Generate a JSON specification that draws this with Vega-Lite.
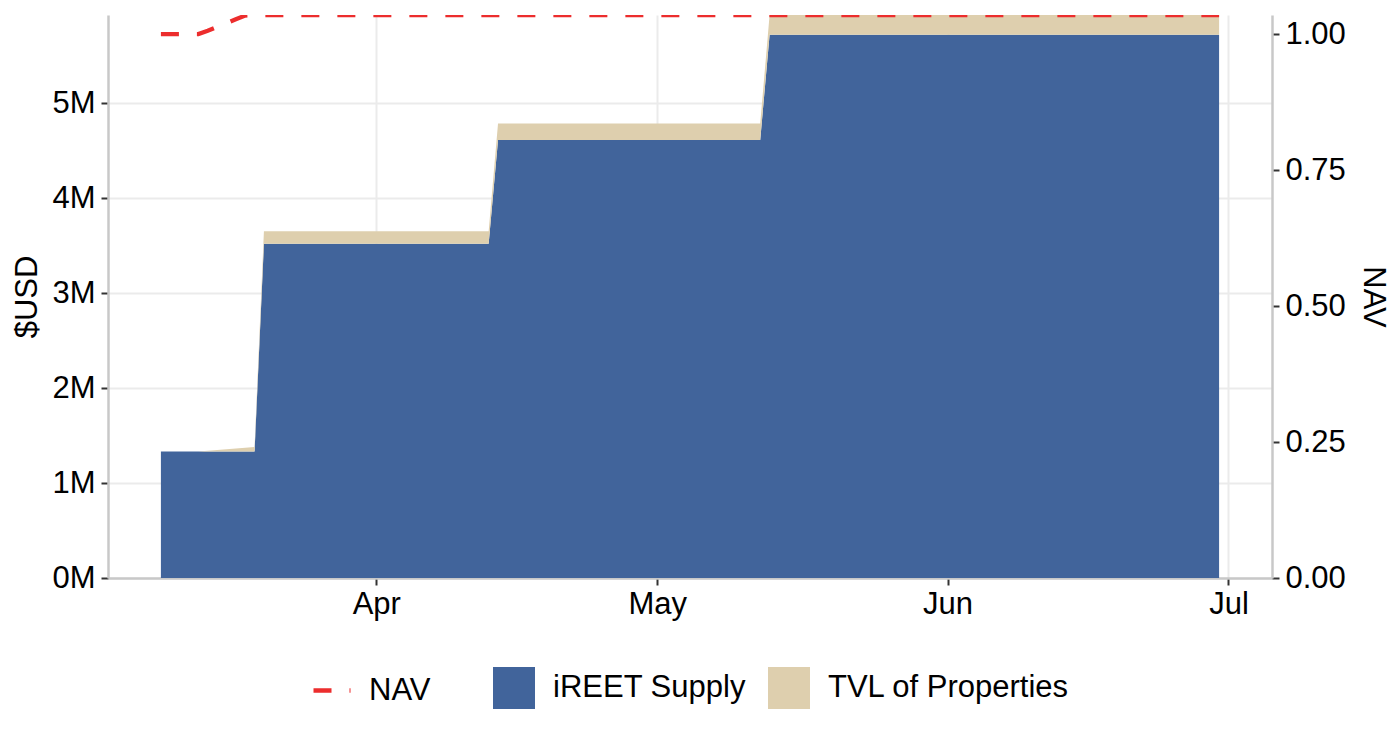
{
  "$schema": "https://vega.github.io/schema/vega-lite/v6.json",
  "width": 1164,
  "height": 563,
  "autosize": {"type": "none"},
  "padding": {"left": 108, "top": 15, "right": 128, "bottom": 162},
  "background": "white",
  "config": {
    "view": {"stroke": null},
    "font": "Liberation Sans",
    "axis": {
      "labelFont": "Liberation Sans",
      "labelFontSize": 31,
      "labelColor": "#000000",
      "titleFont": "Liberation Sans",
      "titleFontSize": 31,
      "titleFontWeight": "normal",
      "titleColor": "#000000",
      "domainColor": "#C8C8C8",
      "domainWidth": 2.5,
      "tickColor": "#333333",
      "tickWidth": 2,
      "tickSize": 7,
      "gridColor": "#EBEBEB",
      "gridWidth": 2
    },
    "legend": {
      "labelFont": "Liberation Sans",
      "labelFontSize": 31,
      "labelColor": "#000000",
      "labelLimit": 0,
      "padding": 0,
      "orient": "none",
      "direction": "horizontal"
    }
  },
  "datasets": {
    "area": [
      {"date": "2023-03-09", "series": "iREET Supply", "ord": 1, "value": 1333000},
      {"date": "2023-03-13", "series": "iREET Supply", "ord": 1, "value": 1333000},
      {"date": "2023-03-19", "series": "iREET Supply", "ord": 1, "value": 1333000},
      {"date": "2023-03-20", "series": "iREET Supply", "ord": 1, "value": 3520000},
      {"date": "2023-04-13", "series": "iREET Supply", "ord": 1, "value": 3520000},
      {"date": "2023-04-14", "series": "iREET Supply", "ord": 1, "value": 4614000},
      {"date": "2023-05-12", "series": "iREET Supply", "ord": 1, "value": 4614000},
      {"date": "2023-05-13", "series": "iREET Supply", "ord": 1, "value": 5722000},
      {"date": "2023-06-30", "series": "iREET Supply", "ord": 1, "value": 5722000},
      {"date": "2023-03-09", "series": "TVL of Properties", "ord": 2, "value": 0},
      {"date": "2023-03-13", "series": "TVL of Properties", "ord": 2, "value": 0},
      {"date": "2023-03-19", "series": "TVL of Properties", "ord": 2, "value": 46000},
      {"date": "2023-03-20", "series": "TVL of Properties", "ord": 2, "value": 132000},
      {"date": "2023-04-13", "series": "TVL of Properties", "ord": 2, "value": 132000},
      {"date": "2023-04-14", "series": "TVL of Properties", "ord": 2, "value": 173000},
      {"date": "2023-05-12", "series": "TVL of Properties", "ord": 2, "value": 173000},
      {"date": "2023-05-13", "series": "TVL of Properties", "ord": 2, "value": 208000},
      {"date": "2023-06-30", "series": "TVL of Properties", "ord": 2, "value": 208000}
    ],
    "nav": [
      {"date": "2023-03-09", "nav": 1.0},
      {"date": "2023-03-13", "nav": 1.0},
      {"date": "2023-03-14", "nav": 1.006},
      {"date": "2023-03-15", "nav": 1.013},
      {"date": "2023-03-16", "nav": 1.02},
      {"date": "2023-03-17", "nav": 1.027},
      {"date": "2023-03-18", "nav": 1.034},
      {"date": "2023-03-19", "nav": 1.035},
      {"date": "2023-06-30", "nav": 1.035}
    ]
  },
  "encoding": {
    "x": {
      "field": "date",
      "type": "temporal",
      "scale": {
        "type": "utc",
        "domain": [
          {"year": 2023, "month": 3, "date": 3, "hours": 8, "minutes": 24, "utc": true},
          {"year": 2023, "month": 7, "date": 5, "hours": 15, "minutes": 36, "utc": true}
        ]
      },
      "axis": {
        "title": null,
        "grid": true,
        "values": [
          {"year": 2023, "month": 4, "date": 1, "utc": true},
          {"year": 2023, "month": 5, "date": 1, "utc": true},
          {"year": 2023, "month": 6, "date": 1, "utc": true},
          {"year": 2023, "month": 7, "date": 1, "utc": true}
        ],
        "labelExpr": "utcFormat(datum.value, '%b')",
        "labelPadding": 4
      }
    }
  },
  "layer": [
    {
      "data": {"name": "area"},
      "mark": {"type": "area", "clip": true, "interpolate": "linear"},
      "encoding": {
        "y": {
          "field": "value",
          "type": "quantitative",
          "stack": "zero",
          "scale": {"domain": [0, 5930000], "nice": false, "zero": true},
          "axis": {
            "title": "$USD",
            "values": [0, 1000000, 2000000, 3000000, 4000000, 5000000],
            "labelExpr": "format(datum.value / 1000000, 'd') + 'M'",
            "labelPadding": 6,
            "grid": true,
            "titleX": -81,
            "titleY": 281.5,
            "titleAngle": -90,
            "titleAlign": "center",
            "titleBaseline": "middle"
          }
        },
        "fill": {
          "field": "series",
          "type": "nominal",
          "scale": {
            "domain": ["iREET Supply", "TVL of Properties"],
            "range": ["#41649B", "#DECFAE"]
          },
          "legend": {
            "title": null,
            "legendX": 385,
            "legendY": 652,
            "symbolType": "square",
            "symbolSize": 1764,
            "symbolStrokeWidth": 0,
            "symbolOpacity": 1,
            "labelOffset": 18,
            "columnPadding": 22
          }
        },
        "order": {"field": "ord", "type": "quantitative"}
      }
    },
    {
      "data": {"name": "nav"},
      "mark": {"type": "line", "clip": true, "strokeWidth": 4.3, "strokeDash": [18, 18]},
      "encoding": {
        "y": {
          "field": "nav",
          "type": "quantitative",
          "scale": {"domain": [0, 1.035], "nice": false, "zero": true},
          "axis": {
            "orient": "right",
            "title": "NAV",
            "values": [0, 0.25, 0.5, 0.75, 1],
            "format": ".2f",
            "labelPadding": 6,
            "grid": false,
            "titleX": 100,
            "titleY": 281.5,
            "titleAngle": 90,
            "titleAlign": "center",
            "titleBaseline": "middle"
          }
        },
        "stroke": {
          "datum": "NAV",
          "type": "nominal",
          "scale": {"domain": ["NAV"], "range": ["#EC2D2D"]},
          "legend": {
            "title": null,
            "legendX": 203,
            "legendY": 654.5,
            "symbolType": "stroke",
            "symbolSize": 1369,
            "symbolStrokeWidth": 4.3,
            "symbolDash": [18, 18],
            "labelOffset": 16
          }
        }
      }
    }
  ],
  "resolve": {"scale": {"y": "independent"}}
}
